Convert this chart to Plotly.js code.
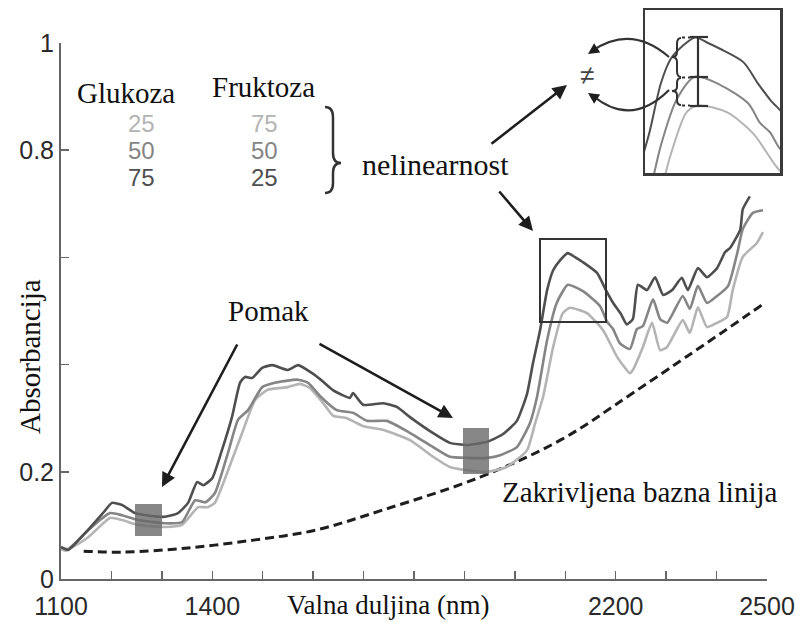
<!DOCTYPE html>
<html>
<head>
<meta charset="utf-8">
<script src="https://cdn.plot.ly/plotly-3.0.1.min.js"></script>
<style>html,body{margin:0;padding:0;background:#fff;}#chart{width:796px;height:622px;}</style>
</head>
<body>
<div id="chart"></div>
<script>
// ---- data ----
// dark line: Glukoza 75 / Fruktoza 25
const darkX = [1100,1114,1150,1185,1201,1221,1247,1275,1306,1332,1352,1370,1382,1400,1419,1439,1455,1465,1479,1499,1519,1550,1570,1598,1620,1640,1673,1679,1699,1739,1766,1792,1838,1871,1905,1945,1976,2004,2024,2036,2050,2064,2076,2090,2105,2120,2135,2163,2180,2195,2210,2222,2234,2244,2262,2278,2294,2312,2331,2343,2363,2381,2401,2417,2427,2447,2452,2466];
const darkY = [0.060,0.054,0.088,0.125,0.142,0.138,0.123,0.118,0.116,0.123,0.142,0.181,0.175,0.188,0.240,0.302,0.366,0.377,0.375,0.394,0.399,0.390,0.399,0.384,0.368,0.352,0.338,0.347,0.325,0.328,0.321,0.302,0.272,0.254,0.250,0.256,0.270,0.295,0.345,0.403,0.464,0.539,0.576,0.595,0.608,0.600,0.591,0.571,0.540,0.515,0.495,0.475,0.485,0.549,0.539,0.563,0.530,0.539,0.562,0.539,0.580,0.563,0.580,0.610,0.618,0.652,0.690,0.714];
// medium line: Glukoza 50 / Fruktoza 50
const midX = [1100,1114,1154,1197,1221,1253,1306,1340,1366,1386,1405,1431,1451,1471,1499,1524,1568,1590,1614,1647,1679,1707,1746,1786,1838,1871,1905,1945,1971,2004,2030,2044,2064,2083,2105,2135,2169,2183,2195,2208,2228,2242,2254,2274,2288,2302,2333,2347,2363,2381,2401,2423,2441,2452,2472,2492];
const midY = [0.058,0.056,0.091,0.123,0.119,0.110,0.104,0.106,0.147,0.143,0.160,0.235,0.297,0.315,0.358,0.366,0.372,0.366,0.341,0.315,0.310,0.295,0.295,0.276,0.246,0.228,0.226,0.226,0.231,0.246,0.291,0.340,0.446,0.515,0.549,0.537,0.509,0.480,0.466,0.440,0.429,0.466,0.472,0.522,0.485,0.478,0.528,0.504,0.547,0.515,0.528,0.547,0.608,0.653,0.683,0.688];
// light line: Glukoza 25 / Fruktoza 75
const lightX = [1100,1110,1154,1197,1221,1253,1306,1340,1372,1391,1405,1439,1459,1485,1510,1550,1574,1594,1620,1639,1667,1700,1740,1792,1838,1871,1905,1945,1984,2024,2040,2056,2076,2095,2109,2143,2175,2203,2228,2234,2254,2272,2288,2302,2333,2347,2363,2381,2401,2421,2432,2452,2480,2492];
const lightY = [0.056,0.053,0.078,0.114,0.110,0.101,0.097,0.101,0.134,0.134,0.142,0.222,0.272,0.334,0.353,0.358,0.364,0.356,0.328,0.305,0.300,0.285,0.278,0.259,0.228,0.209,0.203,0.200,0.209,0.240,0.290,0.340,0.433,0.496,0.506,0.496,0.464,0.414,0.384,0.390,0.433,0.478,0.427,0.433,0.483,0.459,0.507,0.470,0.478,0.489,0.539,0.601,0.627,0.647];
// curved baseline (dashed)
const baseX = [1145,1221,1352,1485,1604,1739,1931,2090,2234,2496];
const baseY = [0.052,0.050,0.058,0.073,0.091,0.129,0.190,0.259,0.347,0.515];

// legend table
const glukozaPct = [25, 50, 75];
const fruktozaPct = [75, 50, 25];
const seriesColors = ['#b4b4b4', '#858585', '#4f4f4f']; // light, medium, dark

// axis ticks
const xTickVals = [1100,1200,1300,1400,1500,1600,1700,1800,1900,2000,2100,2200,2300,2400,2500];
const xTickText = ['1100','','','1400','','','','','','','','2200','','','2500'];
const yTickVals = [0,0.2,0.4,0.6,0.8,1];
const yTickText = ['0','0.2','','','0.8','1'];

// ---- layout helpers (pixel -> paper) ----
const ML = 61, MT = 10, MR = 16, MB = 43;
const PW = 796 - ML - MR, PH = 622 - MT - MB;
const fx = p => (p - ML) / PW;
const fy = p => (622 - MB - p) / PH;
const P = (x, y) => fx(x).toFixed(5) + ',' + fy(y).toFixed(5);

const SERIF = 'Liberation Serif, Times New Roman, serif';
const SANS = 'Liberation Sans, Arial, sans-serif';

const series = [
  {x: lightX, y: lightY, c: seriesColors[0], n: 'Glukoza 25 / Fruktoza 75'},
  {x: midX, y: midY, c: seriesColors[1], n: 'Glukoza 50 / Fruktoza 50'},
  {x: darkX, y: darkY, c: seriesColors[2], n: 'Glukoza 75 / Fruktoza 25'}
];

const traces = [];
traces.push({x: baseX, y: baseY, type: 'scatter', mode: 'lines', name: 'Zakrivljena bazna linija',
  line: {color: '#1e1e1e', width: 3, dash: '9px,5px', shape: 'spline', smoothing: 1}, hoverinfo: 'skip'});
series.forEach(s => traces.push({x: s.x, y: s.y, type: 'scatter', mode: 'lines', name: s.n,
  line: {color: s.c, width: 2.6, shape: 'spline', smoothing: 0.5}}));
series.forEach(s => traces.push({x: s.x, y: s.y, type: 'scatter', mode: 'lines', name: s.n,
  xaxis: 'x2', yaxis: 'y2', showlegend: false, hoverinfo: 'skip',
  line: {color: s.c, width: 2, shape: 'spline', smoothing: 0.8}}));

const annotations = [];
function txt(text, x, y, size, font, color, extra) {
  annotations.push(Object.assign({text: text, x: fx(x), y: fy(y), xref: 'paper', yref: 'paper',
    showarrow: false, xanchor: 'center', yanchor: 'middle', borderpad: 0,
    font: {family: font, size: size, color: color}}, extra || {}));
}
function arrow(tx, ty, hx, hy, w) {
  annotations.push({text: '', x: fx(hx), y: fy(hy), xref: 'paper', yref: 'paper',
    ax: tx - hx, ay: ty - hy, axref: 'pixel', ayref: 'pixel', showarrow: true,
    arrowhead: 2, arrowsize: 1.1, arrowwidth: w || 2.6, arrowcolor: '#1e1e1e', standoff: 0, startstandoff: 0});
}

txt('Glukoza', 126, 93, 29, SERIF, '#111');
txt('Fruktoza', 263, 87, 29, SERIF, '#111');
const rowY = [123, 150, 177];
glukozaPct.forEach((v, i) => txt(String(v), 141, rowY[i], 24, SANS, seriesColors[i], {height: 22}));
fruktozaPct.forEach((v, i) => txt(String(v), 264, rowY[i], 24, SANS, seriesColors[i], {height: 22}));
txt('nelinearnost', 435, 164, 30, SERIF, '#111');
txt('\u2260', 587, 75, 26, SANS, '#444');
txt('Pomak', 268, 311, 29, SERIF, '#111');
txt('Zakrivljena bazna linija', 640, 492, 29, SERIF, '#111');
txt('Valna duljina (nm)', 388, 605, 27, SERIF, '#111');
txt('Absorbancija', 30, 357, 29, SERIF, '#111', {textangle: -90});

arrow(490, 145, 567, 85);
arrow(498, 190, 533, 231);
arrow(238, 343, 162, 487);
arrow(318, 343, 453, 418);
// heads of the curved arrows
arrow(597, 48, 588, 54, 2);
arrow(597, 99, 588, 93, 2);

const shapes = [
  // peak box
  {type: 'rect', xref: 'paper', yref: 'paper', x0: fx(540), x1: fx(606), y0: fy(239), y1: fy(322),
   line: {color: '#333', width: 2}},
  // Pomak markers
  {type: 'rect', xref: 'paper', yref: 'paper', x0: fx(135), x1: fx(162), y0: fy(504), y1: fy(536),
   fillcolor: 'rgba(105,105,105,0.8)', line: {width: 0}, layer: 'above'},
  {type: 'rect', xref: 'paper', yref: 'paper', x0: fx(463), x1: fx(489), y0: fy(428), y1: fy(474),
   fillcolor: 'rgba(105,105,105,0.8)', line: {width: 0}, layer: 'above'},
  // brace next to legend
  {type: 'path', xref: 'paper', yref: 'paper', line: {color: '#333', width: 2.5},
   path: 'M' + P(325,107) + ' Q' + P(333,107) + ' ' + P(333,117) + ' L' + P(333,153) +
         ' Q' + P(333,163) + ' ' + P(341,163) + ' Q' + P(333,163) + ' ' + P(333,173) +
         ' L' + P(333,183) + ' Q' + P(333,193) + ' ' + P(325,193)},
  // inset braces
  {type: 'path', xref: 'paper', yref: 'paper', line: {color: '#333', width: 2},
   path: 'M' + P(681,38) + ' Q' + P(677,38) + ' ' + P(677,44) + ' L' + P(677,52) +
         ' Q' + P(677,57) + ' ' + P(672,57) + ' Q' + P(677,57) + ' ' + P(677,62) +
         ' L' + P(677,71) + ' Q' + P(677,77) + ' ' + P(681,77)},
  {type: 'path', xref: 'paper', yref: 'paper', line: {color: '#333', width: 2},
   path: 'M' + P(681,78) + ' Q' + P(677,78) + ' ' + P(677,83) + ' L' + P(677,87) +
         ' Q' + P(677,91) + ' ' + P(672,91) + ' Q' + P(677,91) + ' ' + P(677,95) +
         ' L' + P(677,100) + ' Q' + P(677,105) + ' ' + P(681,105)},
  // inset I-beam
  {type: 'line', xref: 'paper', yref: 'paper', x0: fx(698), x1: fx(698), y0: fy(37), y1: fy(106), line: {color: '#333', width: 2.2}},
  {type: 'line', xref: 'paper', yref: 'paper', x0: fx(690), x1: fx(708), y0: fy(37), y1: fy(37), line: {color: '#333', width: 2.2}},
  {type: 'line', xref: 'paper', yref: 'paper', x0: fx(690), x1: fx(708), y0: fy(77), y1: fy(77), line: {color: '#333', width: 2.2}},
  {type: 'line', xref: 'paper', yref: 'paper', x0: fx(690), x1: fx(708), y0: fy(106), y1: fy(106), line: {color: '#333', width: 2.2}},
  {type: 'line', xref: 'paper', yref: 'paper', x0: fx(682), x1: fx(690), y0: fy(37.5), y1: fy(37.5), line: {color: '#333', width: 2, dash: 'dot'}},
  {type: 'line', xref: 'paper', yref: 'paper', x0: fx(682), x1: fx(690), y0: fy(77.5), y1: fy(77.5), line: {color: '#333', width: 2, dash: 'dot'}},
  {type: 'line', xref: 'paper', yref: 'paper', x0: fx(682), x1: fx(690), y0: fy(105.5), y1: fy(105.5), line: {color: '#333', width: 2, dash: 'dot'}},
  // curved arrows to the "not equal" sign
  {type: 'path', xref: 'paper', yref: 'paper', line: {color: '#333', width: 2.2},
   path: 'M' + P(669,57) + ' Q' + P(631,24) + ' ' + P(592,51)},
  {type: 'path', xref: 'paper', yref: 'paper', line: {color: '#333', width: 2.2},
   path: 'M' + P(669,90) + ' Q' + P(631,128) + ' ' + P(592,95)}
];

const axisBase = {showgrid: false, zeroline: false, ticks: 'inside', ticklen: 8, tickwidth: 1.5,
  tickcolor: '#666', showline: true, linecolor: '#666', linewidth: 2,
  tickfont: {family: SANS, size: 25, color: '#2a2a2a'}, tickmode: 'array'};

const layout = {
  width: 796, height: 622,
  margin: {l: ML, r: MR, t: MT, b: MB, pad: 0},
  paper_bgcolor: '#ffffff', plot_bgcolor: 'rgba(0,0,0,0)',
  showlegend: false,
  xaxis: Object.assign({}, axisBase, {domain: [0, fx(767)], range: [1100, 2500],
    tickvals: xTickVals, ticktext: xTickText, anchor: 'y', ticklabelstandoff: 4}),
  yaxis: Object.assign({}, axisBase, {domain: [0, fy(43)], range: [0, 1],
    tickvals: yTickVals, ticktext: yTickText, anchor: 'x', ticklabelstandoff: 0}),
  xaxis2: {domain: [fx(645), 1], range: [2045, 2207], anchor: 'y2', showgrid: false, zeroline: false,
    showticklabels: false, ticks: '', showline: true, mirror: true, linecolor: '#3a3a3a', linewidth: 2.5},
  yaxis2: {domain: [fy(173), 1], range: [0.405, 0.649], anchor: 'x2', showgrid: false, zeroline: false,
    showticklabels: false, ticks: '', showline: true, mirror: true, linecolor: '#3a3a3a', linewidth: 2.5},
  annotations: annotations,
  shapes: shapes
};

Plotly.newPlot('chart', traces, layout, {displayModeBar: false, staticPlot: true});
</script>
</body>
</html>
